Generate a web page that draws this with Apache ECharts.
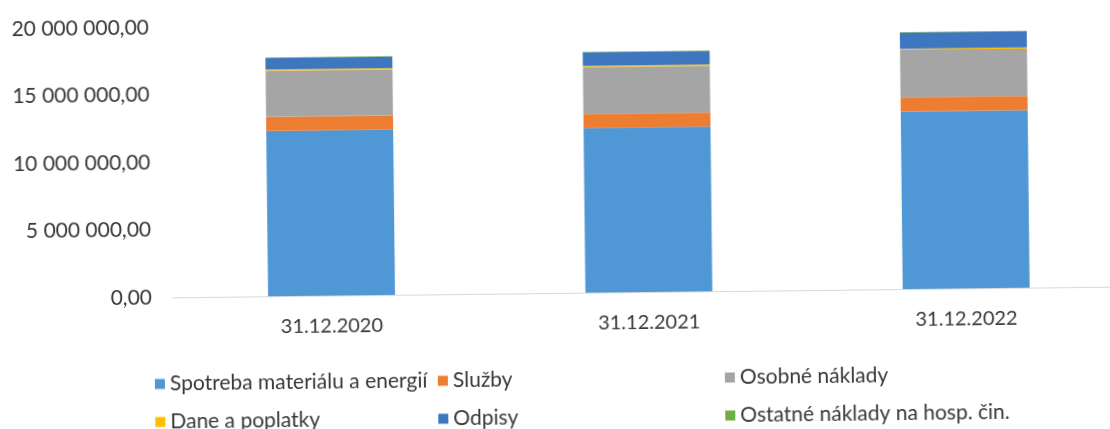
<!DOCTYPE html>
<html>
<head>
<meta charset="utf-8">
<script src="https://cdn.jsdelivr.net/npm/echarts@6/dist/echarts.min.js"></script>
<style>
  html, body { margin: 0; padding: 0; background: #ffffff; }
  #chart { width: 1110px; height: 429px; transform: rotate(-0.65deg); transform-origin: 50% 50%; }
</style>
</head>
<body>
<div id="chart"></div>
<script>
// Náklady podľa druhu k 31.12. (EUR)
const categories = ['31.12.2020', '31.12.2021', '31.12.2022'];
const spotreba = [12250000, 12200000, 13150000];
const sluzby   = [1050000, 1050000, 1050000];
const osobne   = [3400000, 3450000, 3500000];
const dane     = [100000, 100000, 100000];
const odpisy   = [850000, 1000000, 1200000];
const ostatne  = [30000, 30000, 30000];
const yTicks = [0, 5000000, 10000000, 15000000, 20000000];

const seriesNames = [
  'Spotreba materiálu a energií', 'Služby', 'Osobné náklady',
  'Dane a poplatky', 'Odpisy', 'Ostatné náklady na hosp. čin.'
];
const seriesData = [spotreba, sluzby, osobne, dane, odpisy, ostatne];
const colors = ['#4f97d5', '#ed7d31', '#a5a5a5', '#ffc000', '#3f76c0', '#70ad47'];

const FONT = 'Lato, "Open Sans", sans-serif';
const TEXT = '#383838';

function fmt(v) {
  const s = Math.round(v).toString().replace(/\B(?=(\d{3})+(?!\d))/g, ' ');
  return s + ',00';
}

const legendText = { color: TEXT, fontFamily: FONT, fontSize: 21 };
function legendCol(left, names) {
  return {
    left: left, top: 369, orient: 'vertical', itemGap: 17, padding: 0,
    itemWidth: 10, itemHeight: 10, icon: 'rect',
    data: names, textStyle: legendText, selectedMode: false
  };
}

const chart = echarts.init(document.getElementById('chart'), null, { renderer: 'canvas' });
chart.setOption({
  animation: false,
  color: colors,
  grid: {
    left: 172, right: -14, top: 23, bottom: 136,
    containLabel: false, outerBoundsMode: 'none'
  },
  xAxis: {
    type: 'category', data: categories,
    axisLine: { lineStyle: { color: '#d9d9d9', width: 1 } },
    axisTick: { show: false },
    axisLabel: { color: TEXT, fontFamily: FONT, fontSize: 20, margin: 21 }
  },
  yAxis: {
    type: 'value', min: yTicks[0], max: yTicks[yTicks.length - 1], interval: yTicks[1] - yTicks[0],
    axisLine: { show: false }, axisTick: { show: false },
    splitLine: { show: false },
    axisLabel: { color: TEXT, fontFamily: FONT, fontSize: 21, margin: 21, formatter: fmt }
  },
  legend: [
    legendCol(153, [seriesNames[0], seriesNames[3]]),
    legendCol(436, [seriesNames[1], seriesNames[4]]),
    legendCol(723, [seriesNames[2], seriesNames[5]])
  ],
  series: seriesNames.map((name, i) => ({
    name: name, type: 'bar', stack: 'total', barWidth: '40%',
    data: seriesData[i], itemStyle: { color: colors[i] }
  }))
});
</script>
</body>
</html>
